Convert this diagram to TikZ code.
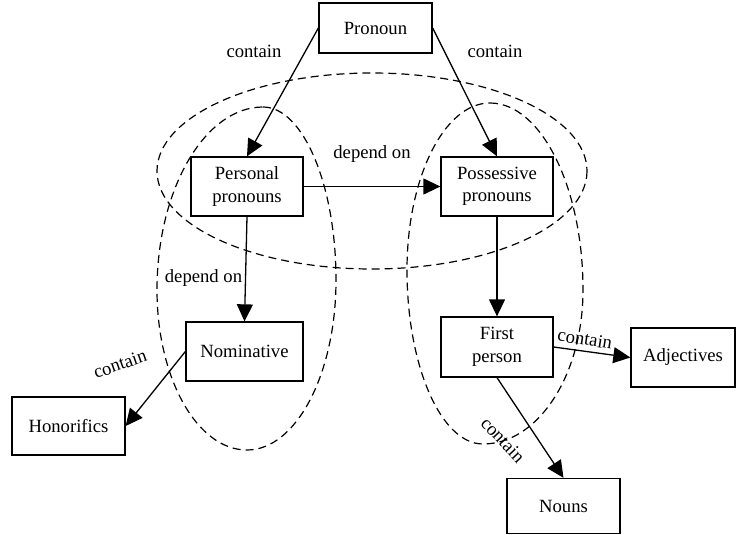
\documentclass[tikz,border=0pt]{standalone}
\usepackage{fontspec}
\setmainfont{Liberation Serif}
\newfontfamily\tnrfont{Liberation Serif}
\usetikzlibrary{arrows.meta}
\begin{document}
\begin{tikzpicture}[x=1pt,y=-1pt,
  font=\tnrfont\fontsize{18.67}{22.5}\selectfont,
  box/.style={draw, line width=1.3pt, inner sep=0pt, align=center},
  edge/.style={line width=1.3pt, -{Triangle[length=17pt,width=16pt]}},
  lab/.style={inner sep=1pt},
  grp/.style={line width=1.2pt, dash pattern=on 8pt off 5pt}]
\useasboundingbox (0,0) rectangle (736,535);
\fill[white] (0,0) rectangle (736,535);

% groups
\draw[grp] (372,171) ellipse [x radius=215, y radius=98];
\draw[grp] (263,107) .. controls (303,107) and (336,185) .. (336,280)
  .. controls (336,374) and (296,450) .. (247,450)
  .. controls (197,450) and (157,378) .. (157,290)
  .. controls (157,189) and (205,107) .. (263,107) -- cycle;
\draw[grp] (490,103) .. controls (541,103) and (583,187) .. (583,290)
  .. controls (583,375) and (538,444) .. (483,444)
  .. controls (441,444) and (407,366) .. (407,270)
  .. controls (407,178) and (444,103) .. (490,103) -- cycle;

% nodes
\node[box, minimum width=113pt, minimum height=50pt] (pron) at (375.5,28) {Pronoun};
\node[box, minimum width=112pt, minimum height=59pt] (pers) at (247,186.5) {Personal\\pronouns};
\node[box, minimum width=112pt, minimum height=59pt] (poss) at (497,186.5) {Possessive\\pronouns};
\node[box, minimum width=117pt, minimum height=59pt] (nom) at (244.5,351.5) {Nominative};
\node[box, minimum width=113pt, minimum height=58pt] (hon) at (68.5,426) {Honorifics};
\node[box, minimum width=112pt, minimum height=60pt] (first) at (497,347) {First\\person};
\node[box, minimum width=104pt, minimum height=59pt] (adj) at (683,357.5) {Adjectives};
\node[box, minimum width=113pt, minimum height=55pt] (noun) at (563.5,506) {Nouns};

% edges
\draw[edge] (pron.west) -- (pers.north);
\draw[edge] (pron.east) -- (poss.north);
\draw[edge] (pers.east) -- (poss.west);
\draw[edge] (pers.south) -- (nom.north);
\draw[edge] (nom.west) -- (hon.east);
\draw[edge] (poss.south) -- (first.north);
\draw[edge] (first.east) -- (adj.west);
\draw[edge] (first.south) -- (noun.north);

% labels
\node[lab] (l1) at (254,51) {contain};
\node[lab] (l2) at (495,51) {contain};
\node[lab] (l3) at (372,154) {depend on};
\node[lab] (l4) at (203.5,278) {depend on};
\node[lab, rotate=19] (l5) at (120,364) {contain};
\node[lab, rotate=-9] (l6) at (585,339) {contain};
\node[lab, rotate=-47] (l7) at (503,440) {contain};
\end{tikzpicture}
\end{document}
